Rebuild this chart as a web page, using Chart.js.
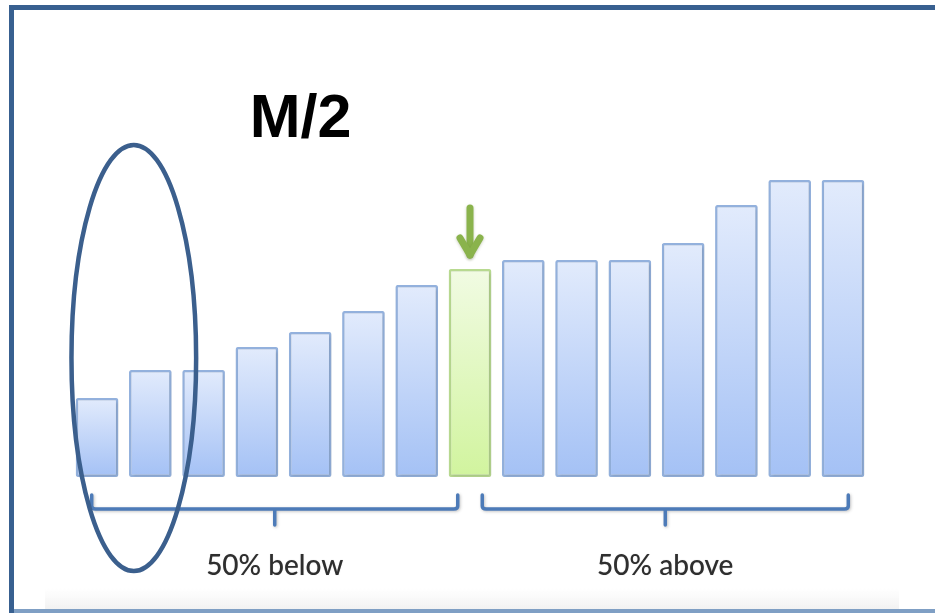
<!DOCTYPE html>
<html>
<head>
<meta charset="utf-8">
<script src="https://cdn.jsdelivr.net/npm/chart.js@4/dist/chart.umd.min.js"></script>
<style>
  html, body { margin: 0; padding: 0; background: #ffffff; }
  canvas { display: block; }
</style>
</head>
<body>
<canvas id="chart" width="935" height="613"></canvas>
<script>
// Sorted observations; the middle one is the median.
const categories = ['1','2','3','4','5','6','7','8','9','10','11','12','13','14','15'];
const values = [79, 107, 107, 130, 145, 166, 192, 208, 217, 217, 217, 234, 272, 297, 297];
const medianIndex = 7;
const titleText = 'M/2';
const groupLabels = ['50% below', '50% above'];

const BLUE_TOP = '#e2ebfc', BLUE_BOTTOM = '#a4c1f5', BLUE_EDGE = '#93b1dd';
const GREEN_TOP = '#f1fbe3', GREEN_BOTTOM = '#d1f49e', GREEN_EDGE = '#b8da90';
const FRAME = '#386090';
const BRACKET = '#4d7bb8';
const ARROW = '#8ab34c';

function barFill(ctx) {
  const chart = ctx.chart;
  if (!chart.chartArea || ctx.type !== 'data') return BLUE_BOTTOM;
  const y = chart.scales.y;
  const top = y.getPixelForValue(ctx.raw);
  const base = y.getPixelForValue(0);
  const g = chart.ctx.createLinearGradient(0, top, 0, base);
  const median = ctx.dataIndex === medianIndex;
  g.addColorStop(0, median ? GREEN_TOP : BLUE_TOP);
  g.addColorStop(1, median ? GREEN_BOTTOM : BLUE_BOTTOM);
  return g;
}

const decorations = {
  id: 'decorations',
  beforeDraw(chart) {
    const c = chart.ctx;
    const W = chart.width, H = chart.height;
    c.save();
    // faint shaded band along the bottom
    const band = c.createLinearGradient(0, 588, 0, 609);
    band.addColorStop(0, 'rgba(244,244,244,0)');
    band.addColorStop(1, 'rgba(242,242,242,1)');
    c.fillStyle = band;
    c.fillRect(45, 588, 854, 21);
    // frame
    c.fillStyle = '#7f9fc4';
    c.fillRect(9, 609, W - 9, 4);
    c.fillStyle = FRAME;
    c.fillRect(9, 5, W - 9, 5);
    c.fillRect(9, 5, 5, H - 5);
    c.restore();
  },
  beforeDatasetsDraw(chart) {
    const c = chart.ctx;
    c.save();
    c.shadowColor = 'rgba(60,60,60,0.22)';
    c.shadowBlur = 3;
    c.shadowOffsetX = 1;
    c.shadowOffsetY = 1;
  },
  afterDatasetsDraw(chart) {
    const c = chart.ctx;
    c.restore();
    const x = chart.scales.x, y = chart.scales.y;
    const px = v => x.getPixelForValue(v);
    const base = y.getPixelForValue(0);

    // arrow pointing at the median bar
    const mx = px(medianIndex);
    const mTop = y.getPixelForValue(values[medianIndex]);
    const tip = mTop - 11, tail = mTop - 61;
    c.save();
    c.strokeStyle = ARROW;
    c.lineWidth = 7;
    c.lineCap = 'round';
    c.lineJoin = 'round';
    c.shadowColor = 'rgba(80,100,40,0.3)';
    c.shadowBlur = 3;
    c.shadowOffsetY = 1;
    c.beginPath();
    c.moveTo(mx, tail);
    c.lineTo(mx, tip - 3);
    c.stroke();
    c.beginPath();
    c.moveTo(mx - 10, tip - 20);
    c.lineTo(mx, tip - 3);
    c.lineTo(mx + 10, tip - 20);
    c.stroke();
    c.restore();

    // brackets under each half
    const bracketTop = base + 18, bracketLine = base + 32, tickEnd = base + 48;
    function bracket(a, b) {
      const xa = px(a), xb = px(b), xm = (xa + xb) / 2;
      c.beginPath();
      c.moveTo(xa, bracketTop);
      c.lineTo(xa, bracketLine - 3);
      c.quadraticCurveTo(xa, bracketLine, xa + 4, bracketLine);
      c.lineTo(xb - 4, bracketLine);
      c.quadraticCurveTo(xb, bracketLine, xb, bracketLine - 3);
      c.lineTo(xb, bracketTop);
      c.moveTo(xm, bracketLine);
      c.lineTo(xm, tickEnd);
      c.stroke();
      return xm;
    }
    c.save();
    c.strokeStyle = BRACKET;
    c.lineWidth = 3.5;
    c.lineCap = 'round';
    c.shadowColor = 'rgba(60,60,60,0.3)';
    c.shadowBlur = 3;
    c.shadowOffsetX = 1;
    c.shadowOffsetY = 1;
    const leftMid = bracket(-0.1, 6.77);
    const rightMid = bracket(7.23, 14.1);
    c.restore();

    // group labels
    c.save();
    c.fillStyle = '#2e2e2e';
    c.font = '500 28px Lato, "Open Sans", sans-serif';
    c.textAlign = 'center';
    c.textBaseline = 'alphabetic';
    c.shadowColor = 'rgba(0,0,0,0.25)';
    c.shadowBlur = 1;
    c.fillText(groupLabels[0], leftMid, base + 98);
    c.fillText(groupLabels[1], rightMid, base + 98);
    c.restore();

    // title
    c.save();
    c.fillStyle = '#000000';
    c.font = 'bold 61px "Liberation Sans", Arial, sans-serif';
    c.textAlign = 'center';
    c.fillText(titleText, px(3.82), 137);
    c.restore();

    // ellipse around the lowest values
    c.save();
    c.strokeStyle = '#3b5f8d';
    c.lineWidth = 4.5;
    const ecx = px(0.69);
    const unit = px(1) - px(0);
    c.beginPath();
    c.ellipse(ecx, y.getPixelForValue(119), unit * 1.17, 213, 0, 0, Math.PI * 2);
    c.stroke();
    c.restore();
  }
};

new Chart(document.getElementById('chart'), {
  type: 'bar',
  data: {
    labels: categories,
    datasets: [{
      data: values,
      backgroundColor: barFill,
      borderColor: ctx => ctx.dataIndex === medianIndex ? GREEN_EDGE : BLUE_EDGE,
      borderWidth: 2.5,
      borderRadius: 2,
      borderSkipped: false,
      barPercentage: 0.8,
      categoryPercentage: 1
    }]
  },
  options: {
    responsive: false,
    animation: false,
    events: [],
    layout: { padding: { left: 70.4, right: 65.4, top: 177, bottom: 136 } },
    plugins: { legend: { display: false }, tooltip: { enabled: false } },
    scales: {
      x: { display: false },
      y: { display: false, min: 0, max: 300 }
    }
  },
  plugins: [decorations]
});
</script>
</body>
</html>
